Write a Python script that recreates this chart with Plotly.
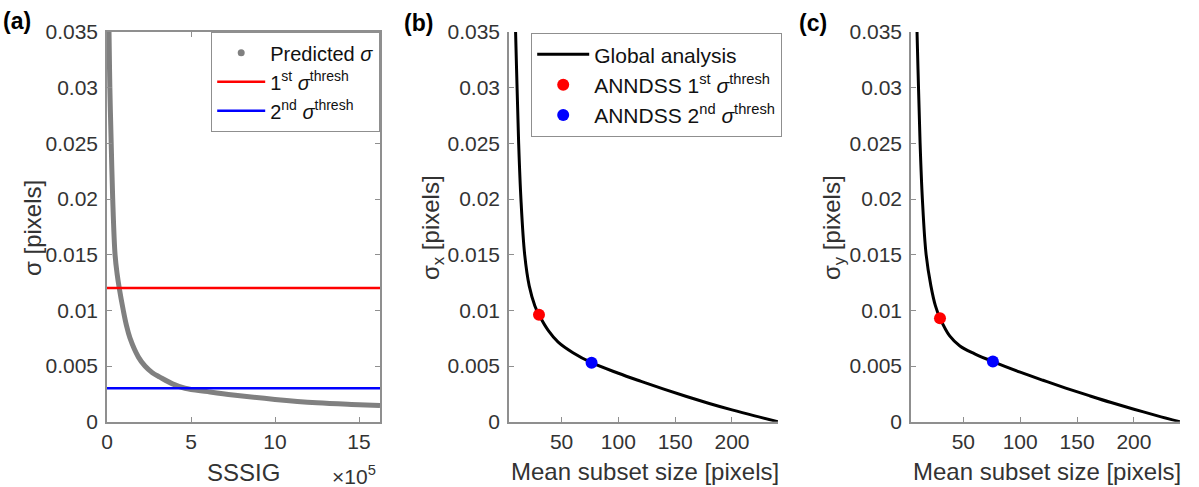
import plotly.graph_objects as go

# ---- (a) predicted sigma vs SSSIG ----
sssig = [0.07e5, 0.12e5, 0.17e5, 0.25e5, 0.34e5, 0.48e5, 0.6e5, 0.73e5, 0.97e5, 1.15e5,
         1.37e5, 1.87e5, 2.26e5, 2.7e5, 3.15e5, 3.9e5, 4.64e5, 6e5, 7.5e5, 10e5,
         12.5e5, 15e5, 16.25e5]
sigma_pred = [0.042, 0.035, 0.030, 0.025, 0.020, 0.015, 0.0133, 0.012, 0.010, 0.0087,
              0.0075, 0.0058, 0.005, 0.0044, 0.004, 0.0034, 0.003, 0.0027, 0.0024, 0.0020,
              0.0017, 0.00153, 0.00145]
thresh_1st = 0.012
thresh_2nd = 0.003

# ---- (b) sigma_x vs mean subset size ----
subset_b = [8.0, 9.5, 10.8, 12.2, 14.2, 17.5, 21.5, 26.5, 30.1, 38.2, 47.0, 60.0,
            76.4, 100.0, 120.0, 140.0, 160.0, 180.0, 200.0, 220.0, 240.4]
sigma_x = [0.042, 0.035, 0.030, 0.025, 0.020, 0.015, 0.0122, 0.0104, 0.0096, 0.0082,
           0.00715, 0.0062, 0.0053, 0.00435, 0.00362, 0.00292, 0.00226, 0.00164, 0.00106,
           0.00052, 0.0]
anndss_b_x = [30.1, 76.4]
anndss_b_y = [0.0096, 0.0053]

# ---- (c) sigma_y vs mean subset size ----
subset_c = [7.8, 9.3, 10.6, 12.0, 14.0, 17.3, 21.5, 25.5, 29.5, 38.0, 47.0, 60.0,
            76.0, 100.0, 120.0, 140.0, 160.0, 180.0, 200.0, 220.0, 240.4]
sigma_y = [0.042, 0.035, 0.030, 0.025, 0.020, 0.015, 0.0122, 0.0104, 0.0093, 0.0077,
           0.0068, 0.0061, 0.0054, 0.00445, 0.00372, 0.00302, 0.00236, 0.00172, 0.00112,
           0.00055, 0.0]
anndss_c_x = [29.5, 76.0]
anndss_c_y = [0.0093, 0.0054]

y_ticks = [0, 0.005, 0.01, 0.015, 0.02, 0.025, 0.03, 0.035]
y_ticktext = ["0", "0.005", "0.01", "0.015", "0.02", "0.025", "0.03", "0.035"]
sssig_ticks = [0, 5e5, 10e5, 15e5]
sssig_ticktext = ["0", "5", "10", "15"]
size_ticks = [50, 100, 150, 200]

W, H = 1199, 487
FONT = "Liberation Sans, Arial, sans-serif"
AX = "#8f8f8f"
TXT = "#333333"

def px(x):
    return x / W

def py(y):
    return 1 - y / H

y_dom = [py(421.7), py(32)]
fig = go.Figure()

# (a)
fig.add_trace(go.Scatter(x=sssig, y=sigma_pred, mode="lines",
                         line=dict(color="#808080", width=5, shape="spline", smoothing=1.0),
                         showlegend=False, xaxis="x", yaxis="y"))
fig.add_trace(go.Scatter(x=[None], y=[None], mode="markers",
                         marker=dict(color="#808080", size=7),
                         name="Predicted <i>σ</i>", legend="legend",
                         xaxis="x", yaxis="y"))
fig.add_trace(go.Scatter(x=[0, 16.25e5], y=[thresh_1st, thresh_1st], mode="lines",
                         line=dict(color="#ff0000", width=2.5),
                         name="1<sup>st</sup> <i>σ</i><sup>thresh</sup>", legend="legend",
                         xaxis="x", yaxis="y"))
fig.add_trace(go.Scatter(x=[0, 16.25e5], y=[thresh_2nd, thresh_2nd], mode="lines",
                         line=dict(color="#0000ff", width=2.5),
                         name="2<sup>nd</sup> <i>σ</i><sup>thresh</sup>", legend="legend",
                         xaxis="x", yaxis="y"))

# (b)
fig.add_trace(go.Scatter(x=subset_b, y=sigma_x, mode="lines",
                         line=dict(color="#000000", width=3, shape="spline", smoothing=1.0),
                         name="Global analysis", legend="legend2",
                         xaxis="x2", yaxis="y2"))
fig.add_trace(go.Scatter(x=anndss_b_x[:1], y=anndss_b_y[:1], mode="markers",
                         marker=dict(color="#ff0000", size=12),
                         name="ANNDSS 1<sup>st</sup> <i>σ</i><sup>thresh</sup>", legend="legend2",
                         xaxis="x2", yaxis="y2"))
fig.add_trace(go.Scatter(x=anndss_b_x[1:], y=anndss_b_y[1:], mode="markers",
                         marker=dict(color="#0000ff", size=12),
                         name="ANNDSS 2<sup>nd</sup> <i>σ</i><sup>thresh</sup>", legend="legend2",
                         xaxis="x2", yaxis="y2"))

# (c)
fig.add_trace(go.Scatter(x=subset_c, y=sigma_y, mode="lines",
                         line=dict(color="#000000", width=3, shape="spline", smoothing=1.0),
                         showlegend=False, xaxis="x3", yaxis="y3"))
fig.add_trace(go.Scatter(x=anndss_c_x[:1], y=anndss_c_y[:1], mode="markers",
                         marker=dict(color="#ff0000", size=12), showlegend=False,
                         xaxis="x3", yaxis="y3"))
fig.add_trace(go.Scatter(x=anndss_c_x[1:], y=anndss_c_y[1:], mode="markers",
                         marker=dict(color="#0000ff", size=12), showlegend=False,
                         xaxis="x3", yaxis="y3"))

def xaxis(dom, rng, tv, tt, anchor, mirror):
    return dict(domain=dom, range=rng, tickvals=tv, ticktext=tt, anchor=anchor,
                showline=True, linecolor=AX, linewidth=1.5, mirror=mirror,
                ticks="inside", ticklen=5, tickcolor=AX, showgrid=False,
                zeroline=False, automargin=False,
                tickfont=dict(family=FONT, size=21, color=TXT))

def yaxis(rng, anchor, mirror):
    return dict(domain=y_dom, range=rng, tickvals=y_ticks, ticktext=y_ticktext,
                anchor=anchor, showline=True, linecolor=AX, linewidth=1.5,
                mirror=mirror, ticks="inside", ticklen=5, tickcolor=AX,
                showgrid=False, zeroline=False, automargin=False,
                ticklabelstandoff=3,
                tickfont=dict(family=FONT, size=21, color=TXT))

legend_style = dict(bgcolor="white", bordercolor="#8f8f8f", borderwidth=1.2,
                    xanchor="right", yanchor="top", tracegroupgap=0)

annotations = [
    dict(text="<b>(a)</b>", x=px(17), y=py(21)),
    dict(text="<b>(b)</b>", x=px(418), y=py(23)),
    dict(text="<b>(c)</b>", x=px(813), y=py(23)),
]
for a in annotations:
    a.update(xref="paper", yref="paper", showarrow=False,
             xanchor="center", yanchor="middle",
             font=dict(family=FONT, size=23, color="#000000"))

titles = [
    dict(text="SSSIG", x=px(243), y=py(472), textangle=0),
    dict(text="Mean subset size [pixels]", x=px(645), y=py(471), textangle=0),
    dict(text="Mean subset size [pixels]", x=px(1047), y=py(471), textangle=0),
    dict(text="σ [pixels]", x=px(32), y=py(228), textangle=-90),
    dict(text="σ<sub>x</sub> [pixels]", x=px(432), y=py(228), textangle=-90),
    dict(text="σ<sub>y</sub> [pixels]", x=px(833), y=py(228), textangle=-90),
]
for t in titles:
    t.update(xref="paper", yref="paper", showarrow=False,
             xanchor="center", yanchor="middle",
             font=dict(family=FONT, size=24, color=TXT))
annotations += titles
annotations.append(dict(text="×10<sup>5</sup>", x=px(354), y=py(475), xref="paper",
                        yref="paper", showarrow=False, xanchor="center", yanchor="middle",
                        font=dict(family=FONT, size=21, color=TXT)))

fig.update_layout(
    width=W, height=H,
    margin=dict(l=0, r=0, t=0, b=0, autoexpand=False),
    paper_bgcolor="white", plot_bgcolor="white",
    xaxis=xaxis([px(107), px(380)], [0, 16.25e5], sssig_ticks, sssig_ticktext, "y", "ticks"),
    yaxis=yaxis([0, 0.035], "x", "ticks"),
    xaxis2=xaxis([px(509), px(778)], [3.7, 240.5], size_ticks, [str(v) for v in size_ticks], "y2", False),
    yaxis2=yaxis([0, 0.035], "x2", False),
    xaxis3=xaxis([px(911), px(1180)], [4.0, 240.5], size_ticks, [str(v) for v in size_ticks], "y3", False),
    yaxis3=yaxis([0, 0.035], "x3", False),
    legend=dict(x=px(380), y=py(32), itemwidth=48,
                font=dict(family=FONT, size=20, color="#111111"), **legend_style),
    legend2=dict(x=px(782), y=py(33), itemwidth=52,
                 font=dict(family=FONT, size=21, color="#111111"), **legend_style),
    annotations=annotations,
)

fig.write_html("out.html")
